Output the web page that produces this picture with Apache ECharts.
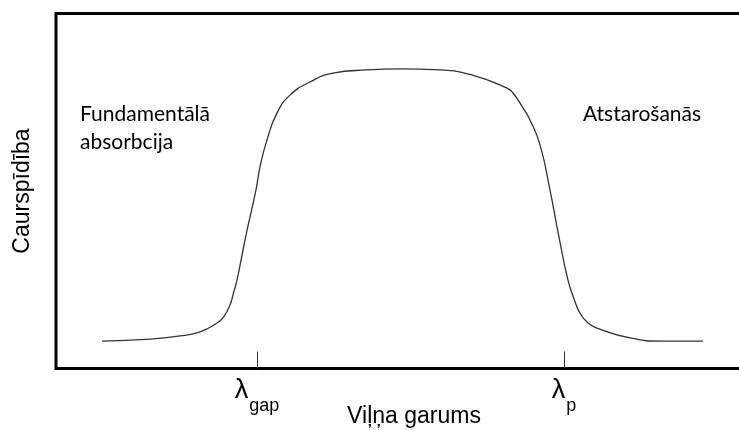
<!DOCTYPE html>
<html>
<head>
<meta charset="utf-8">
<script src="https://cdn.jsdelivr.net/npm/echarts@6/dist/echarts.min.js"></script>
<style>
  html, body { margin: 0; padding: 0; background: #fff; }
  #chart { width: 739px; height: 430px; }
</style>
</head>
<body>
<div id="chart"></div>
<script>
// Wavelength (arbitrary units, 0–100 across the frame)
const wavelength = [
  6.42, 13.13, 17.32, 20.11, 22.49, 23.39, 24.30, 24.79, 25.28, 26.54,
  27.93, 28.49, 29.47, 30.87, 32.68, 35.47, 38.69, 43.44, 48.04, 53.63,
  58.24, 62.99, 63.83, 65.22, 66.20, 67.60, 68.99, 70.25, 71.51, 72.35,
  73.18, 74.30, 75.56, 80.17, 84.78, 90.36
];
// Transmission (relative, 0–1)
const transmission = [
  0.077, 0.083, 0.092, 0.103, 0.128, 0.145, 0.179, 0.213, 0.249, 0.376,
  0.503, 0.568, 0.644, 0.720, 0.770, 0.807, 0.832, 0.841, 0.844, 0.841,
  0.826, 0.790, 0.776, 0.734, 0.700, 0.630, 0.503, 0.370, 0.249, 0.196,
  0.156, 0.128, 0.114, 0.086, 0.077, 0.077
];
// Marked wavelengths on the axis and their labels
const tickPositions = [28.07, 70.95];
const tickMain = ['λ', 'λ'];
const tickSub = ['gap', 'p'];

const xAxisTitle = 'Viļņa garums';
const yAxisTitle = 'Caurspīdība';
const leftNote = 'Fundamentālā\nabsorbcija';
const rightNote = 'Atstarošanās';

const chart = echarts.init(document.getElementById('chart'));
chart.setOption({
  animation: false,
  backgroundColor: '#ffffff',
  grid: {
    left: 56, top: 13.5, right: -33, bottom: 61.5,
    outerBoundsMode: 'none',
    containLabel: false,
    show: true, borderColor: '#000', borderWidth: 3
  },
  xAxis: {
    type: 'value', min: 0, max: 100,
    name: xAxisTitle,
    nameLocation: 'middle',
    nameGap: 37,
    nameMoveOverlap: false,
    nameTextStyle: { fontFamily: 'Liberation Sans', fontSize: 23, color: '#000' },
    axisLine: { show: false },
    splitLine: { show: false },
    axisTick: {
      show: true, inside: true, length: 17,
      customValues: tickPositions,
      lineStyle: { color: '#333', width: 1 }
    },
    axisLabel: {
      show: true,
      customValues: tickPositions,
      margin: 9,
      formatter: function (v) {
        const i = tickPositions.indexOf(v);
        return '{l|' + tickMain[i] + '}{s|' + tickSub[i] + '}';
      },
      rich: {
        l: { fontFamily: 'Liberation Sans', fontSize: 27, color: '#000', verticalAlign: 'top' },
        s: { fontFamily: 'Liberation Sans', fontSize: 18, color: '#000', verticalAlign: 'top', padding: [20, 0, 0, 1] }
      }
    }
  },
  yAxis: {
    type: 'value', min: 0, max: 1,
    name: yAxisTitle,
    nameLocation: 'middle',
    nameGap: 22,
    nameTextStyle: { fontFamily: 'Liberation Sans', fontSize: 23, color: '#000' },
    axisLine: { show: false },
    axisTick: { show: false },
    axisLabel: { show: false },
    splitLine: { show: false }
  },
  graphic: [
    {
      type: 'text', left: 80, top: 100,
      style: { text: leftNote, font: '21px Lato', fill: '#000', lineHeight: 28 }
    },
    {
      type: 'text', left: 583, top: 100,
      style: { text: rightNote, font: '21px Lato', fill: '#000', lineHeight: 28 }
    }
  ],
  series: [{
    type: 'line',
    data: wavelength.map((x, i) => [x, transmission[i]]),
    smooth: 0.5,
    showSymbol: false,
    lineStyle: { color: '#333', width: 1.3 }
  }]
});
</script>
</body>
</html>
